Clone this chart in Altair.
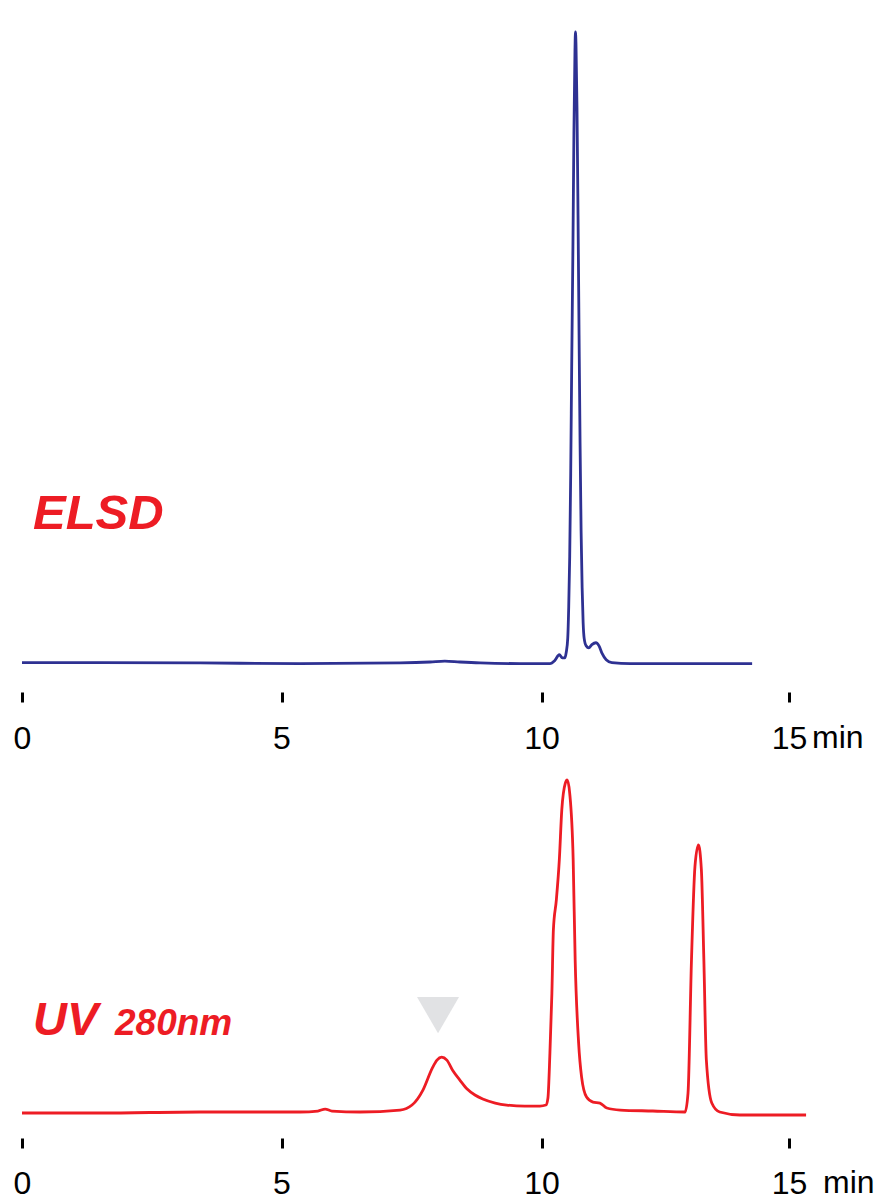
import altair as alt
import pandas as pd

# ---------------- data (time in min, signal in % of max) ----------------
elsd_time = [0.00, 1.50, 3.43, 5.36, 7.28, 7.86, 8.14, 8.43, 8.82, 9.59, 10.17, 10.27,
             10.36, 10.42, 10.47, 10.50, 10.53, 10.55, 10.57, 10.59, 10.61, 10.635, 10.655,
             10.676, 10.686, 10.697, 10.717, 10.738, 10.759, 10.779, 10.80, 10.821, 10.841, 10.862,
             10.903, 10.955, 11.017, 11.10, 11.162, 11.224, 11.307, 11.421, 11.793, 13.20, 14.255]
elsd_signal = [0.15, 0.15, 0.10, 0.00, 0.10, 0.25, 0.40, 0.25, 0.10, 0.00, 0.00, 0.50,
               1.40, 0.90, 0.90, 1.80, 4.0, 9.0, 17.0, 30.0, 47.0, 66.0, 84.0,
               97.0, 100.0, 98.0, 88.0, 71.0, 52.0, 35.0, 21.0, 12.0, 6.5, 4.0,
               2.8, 2.5, 3.0, 3.3, 2.8, 1.6, 0.6, 0.15, 0.0, 0.0, 0.0]

uv_time = [0.00, 1.50, 3.43, 5.36, 5.70, 5.84, 5.97, 6.51, 7.28, 7.51, 7.72, 7.90, 7.99,
           8.08, 8.18, 8.30, 8.43, 8.57, 8.72, 8.87, 9.11, 9.33, 9.68, 9.97, 10.09, 10.13,
           10.17, 10.21, 10.24, 10.30, 10.36, 10.41, 10.48, 10.52, 10.57, 10.64, 10.68,
           10.75, 10.81, 10.91, 11.04, 11.18, 11.32, 11.59, 12.25, 12.90, 12.96, 13.03,
           13.10, 13.17, 13.23, 13.28, 13.33, 13.44, 13.60, 14.01, 15.32]
uv_signal = [0.0, 0.0, 0.3, 0.3, 0.6, 1.2, 0.6, 0.3, 0.9, 2.4, 6.9, 13.5, 15.9,
             16.8, 15.9, 12.6, 9.9, 7.2, 5.4, 4.2, 3.0, 2.4, 2.1, 2.1, 2.4, 4.5,
             18.0, 36.0, 55.0, 64.0, 76.0, 91.0, 99.0, 100.0, 96.0, 76.0, 46.0,
             21.0, 10.8, 4.8, 3.3, 3.0, 1.5, 0.9, 0.6, 0.3, 6.0, 46.0,
             74.0, 80.5, 73.0, 46.0, 16.0, 3.0, 0.3, -0.6, -0.6]

tick_values = [0, 5, 10, 15]
unit_label = ["min"]
unit_at = [15]
marker_time = [8.01]
marker_signal = [29.4]
top_title = ["ELSD"]
bottom_title = ["UV"]
bottom_subtitle = ["280nm"]

RED = "#ed1c24"
BLUE = "#2e3192"
FONT = "Liberation Sans"

df_elsd = pd.DataFrame({"t": elsd_time, "v": elsd_signal})
df_uv = pd.DataFrame({"t": uv_time, "v": uv_signal})
df_unit = pd.DataFrame({"t": unit_at, "text": unit_label})
df_marker = pd.DataFrame({"t": marker_time, "v": marker_signal})
df_top_title = pd.DataFrame({"label": top_title})
df_bot_title = pd.DataFrame({"label": bottom_title})
df_bot_sub = pd.DataFrame({"label": bottom_subtitle})

# the printed time axis is slightly uneven, so a piecewise-linear scale follows its ticks
X_DOMAIN = [-0.17, 0, 5, 10, 15, 15.45]
X_RANGE = [0, 9, 268.5, 528.5, 776, 800]


def x_scale():
    return alt.Scale(domain=X_DOMAIN, range=X_RANGE, nice=False, zero=False)


def make_axis(pad):
    return alt.Axis(values=tick_values, domain=False, grid=False, ticks=True,
                    tickSize=10, tickWidth=3, tickColor="black",
                    labelFont=FONT, labelFontSize=32, labelColor="black",
                    labelPadding=pad, title=None)


# ---------------- top panel (ELSD) ----------------
top_line = alt.Chart(df_elsd).mark_line(
    color=BLUE, strokeWidth=2.8, interpolate="monotone"
).encode(
    x=alt.X("t:Q", scale=x_scale(), axis=make_axis(21)),
    y=alt.Y("v:Q", scale=alt.Scale(domain=[-4.5, 103.0], nice=False, zero=False), axis=None),
)
top_unit = alt.Chart(df_unit).mark_text(
    align="left", baseline="alphabetic", dx=23, font=FONT, fontSize=32, color="black"
).encode(x="t:Q", y=alt.value(735), text="text:N")
top_label = alt.Chart(df_top_title).mark_text(
    align="left", baseline="alphabetic", font=FONT, fontSize=49,
    fontWeight="bold", fontStyle="italic", color=RED
).encode(x=alt.value(20), y=alt.value(516), text="label:N")

top = alt.layer(top_line, top_unit, top_label).properties(width=800, height=679)

# ---------------- bottom panel (UV 280 nm) ----------------
bot_line = alt.Chart(df_uv).mark_line(
    color=RED, strokeWidth=2.8, interpolate="monotone"
).encode(
    x=alt.X("t:Q", scale=x_scale(), axis=make_axis(20)),
    y=alt.Y("v:Q", scale=alt.Scale(domain=[-7.5, 103.0], nice=False, zero=False), axis=None),
)
bot_marker = alt.Chart(df_marker).mark_point(
    shape="triangle-down", size=1764, filled=True, color="#e1e2e4", opacity=1
).encode(x="t:Q", y="v:Q")
bot_unit = alt.Chart(df_unit).mark_text(
    align="left", baseline="alphabetic", dx=34, font=FONT, fontSize=32, color="black"
).encode(x="t:Q", y=alt.value(423), text="text:N")
bot_label = alt.Chart(df_bot_title).mark_text(
    align="left", baseline="alphabetic", font=FONT, fontSize=47,
    fontWeight="bold", fontStyle="italic", color=RED
).encode(x=alt.value(20), y=alt.value(265), text="label:N")
bot_sub = alt.Chart(df_bot_sub).mark_text(
    align="left", baseline="alphabetic", font=FONT, fontSize=37,
    fontWeight="bold", fontStyle="italic", color=RED
).encode(x=alt.value(102), y=alt.value(265), text="label:N")

bottom = alt.layer(bot_line, bot_marker, bot_unit, bot_label, bot_sub).properties(
    width=800, height=368)

chart = alt.vconcat(top, bottom, spacing=16).properties(
    padding={"left": 5, "top": 5, "right": 0, "bottom": 5}
).configure_view(stroke=None)

chart.save("out.html", embed_options={"renderer": "svg", "actions": False})
